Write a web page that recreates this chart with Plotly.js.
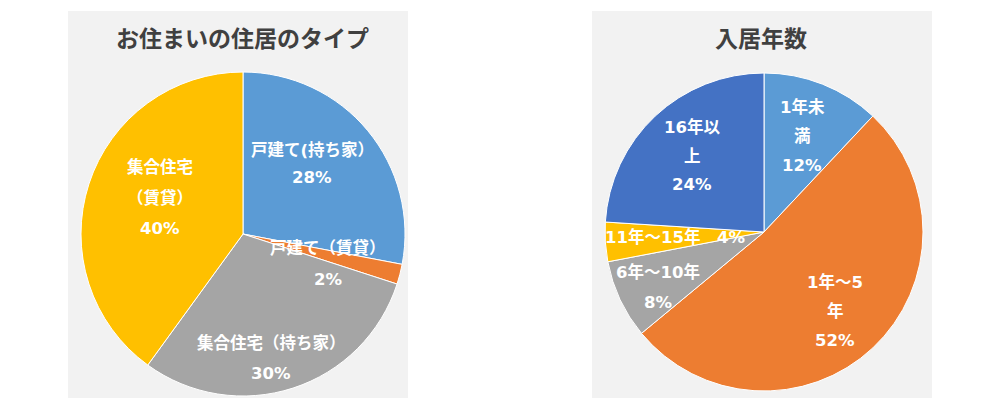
<!DOCTYPE html>
<html><head><meta charset="utf-8">
<script src="https://cdn.plot.ly/plotly-3.0.1.min.js"></script>
<style>html,body{margin:0;padding:0;background:#fff;}#chart{width:1000px;height:410px;}</style>
</head><body><div id="chart"></div>
<script>
// ---- data ----
const typeTitle = 'お住まいの住居のタイプ';
const typeLabels = ['戸建て(持ち家）', '戸建て（賃貸）', '集合住宅（持ち家）', '集合住宅（賃貸）'];
const typeValues = [28, 2, 30, 40];
const typeLabelLines = [['戸建て(持ち家）'], ['戸建て（賃貸）'], ['集合住宅（持ち家）'], ['集合住宅', '（賃貸）']];

const yearTitle = '入居年数';
const yearLabels = ['1年未満', '1年～5年', '6年～10年', '11年～15年', '16年以上'];
const yearValues = [12, 52, 8, 4, 24];
const yearLabelLines = [['1年未', '満'], ['1年～5', '年'], ['6年～10年'], ['11年～15年'], ['16年以', '上']];
const yearInlinePct = [false, false, false, true, false];

const typeColors = ['#5B9BD5', '#ED7D31', '#A5A5A5', '#FFC000'];
const yearColors = ['#5B9BD5', '#ED7D31', '#A5A5A5', '#FFC000', '#4472C4'];

// ---- layout helpers (pixel positions of label text) ----
const W = 1000, H = 410;
const px = x => x / W, py = y => 1 - y / H;
const typeLabelPos = [[312, 150, 28], [328, 248, 31], [271, 343, 30], [160, 168, 30]];
const yearLabelPos = [[802, 107, 29], [835, 282, 29], [658, 272, 30], [675, 237, 0], [692, 127, 29]];

function pct(vals) {
  const s = vals.reduce((a, b) => a + b, 0);
  return vals.map(v => Math.round(v / s * 100) + '%');
}

const labelFont = {family: '"DejaVu Sans", "Noto Sans CJK JP", sans-serif', size: 16.5, color: '#ffffff', weight: 'bold'};
const titleFont = {family: '"Noto Sans CJK JP", "Noto Sans", sans-serif', size: 23, color: '#404040', weight: 'bold'};

const annotations = [];
function addLabels(lines, vals, pos, inline) {
  const p = pct(vals);
  lines.forEach((ls, i) => {
    let all = inline && inline[i] ? [ls[0] + '　' + p[i]] : ls.concat([p[i]]);
    const [x, y0, gap] = pos[i];
    all.forEach((t, j) => {
      annotations.push({text: t, x: px(x), y: py(y0 + j * gap), xref: 'paper', yref: 'paper',
        xanchor: 'center', yanchor: 'middle', showarrow: false, font: labelFont});
    });
  });
}
addLabels(typeLabelLines, typeValues, typeLabelPos, null);
addLabels(yearLabelLines, yearValues, yearLabelPos, yearInlinePct);

annotations.push({text: typeTitle, x: px(242), y: py(37), xref: 'paper', yref: 'paper', xanchor: 'center', yanchor: 'middle', showarrow: false, font: titleFont});
annotations.push({text: yearTitle, x: px(761), y: py(37), xref: 'paper', yref: 'paper', xanchor: 'center', yanchor: 'middle', showarrow: false, font: titleFont});

const traces = [
  {type: 'pie', labels: typeLabels, values: typeValues, sort: false, direction: 'clockwise', rotation: 0,
   marker: {colors: typeColors, line: {color: '#ffffff', width: 1}}, textinfo: 'none', hoverinfo: 'label+percent',
   domain: {x: [px(81), px(405)], y: [py(396), py(72)]}, showlegend: false},
  {type: 'pie', labels: yearLabels, values: yearValues, sort: false, direction: 'clockwise', rotation: 0,
   marker: {colors: yearColors, line: {color: '#ffffff', width: 1}}, textinfo: 'none', hoverinfo: 'label+percent',
   domain: {x: [px(605), px(923)], y: [py(391), py(73)]}, showlegend: false}
];

const layout = {
  width: W, height: H, margin: {l: 0, r: 0, t: 0, b: 0},
  paper_bgcolor: '#ffffff', plot_bgcolor: '#ffffff', showlegend: false,
  shapes: [
    {type: 'rect', xref: 'paper', yref: 'paper', x0: px(68), x1: px(408), y0: py(398), y1: py(11), fillcolor: '#F2F2F2', line: {width: 0}, layer: 'below'},
    {type: 'rect', xref: 'paper', yref: 'paper', x0: px(592), x1: px(932), y0: py(398), y1: py(11), fillcolor: '#F2F2F2', line: {width: 0}, layer: 'below'}
  ],
  annotations: annotations
};

Plotly.newPlot('chart', traces, layout, {displayModeBar: false, staticPlot: true});
</script>
</body></html>
